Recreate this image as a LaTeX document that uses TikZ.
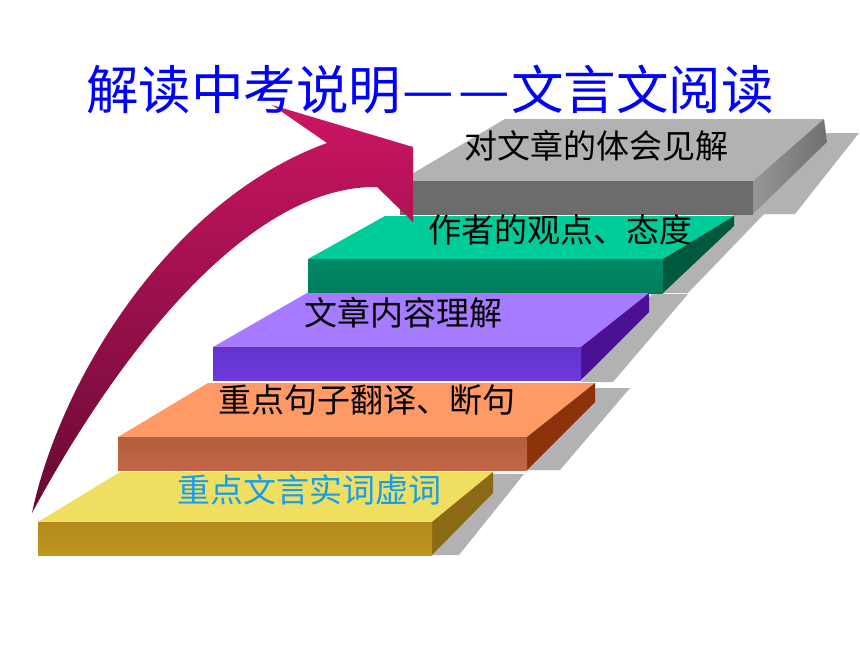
\documentclass[tikz,border=0pt]{standalone}
\usepackage{graphicx}
\usepackage{fontspec}
\newfontfamily\cjk{Noto Sans CJK SC}
\definecolor{shadowgray}{RGB}{178,178,178}
\definecolor{ytop}{RGB}{240,222,96}
\definecolor{yfrontA}{RGB}{178,138,28}
\definecolor{yfrontB}{RGB}{212,166,32}
\definecolor{yside}{RGB}{140,105,20}
\definecolor{otop}{RGB}{255,153,102}
\definecolor{ofrontA}{RGB}{178,94,62}
\definecolor{ofrontB}{RGB}{220,114,82}
\definecolor{oside}{RGB}{140,50,10}
\definecolor{ptop}{RGB}{167,123,255}
\definecolor{pfrontA}{RGB}{100,52,205}
\definecolor{pfrontB}{RGB}{124,62,245}
\definecolor{pside}{RGB}{75,16,150}
\definecolor{gtop}{RGB}{0,204,153}
\definecolor{gfrontA}{RGB}{0,125,92}
\definecolor{gfrontB}{RGB}{0,138,102}
\definecolor{gside}{RGB}{0,88,62}
\definecolor{ktop}{RGB}{178,178,178}
\definecolor{kfrontA}{RGB}{108,108,108}
\definecolor{kfrontB}{RGB}{138,138,138}
\definecolor{ksideA}{RGB}{150,150,150}
\definecolor{ksideB}{RGB}{112,112,112}
\definecolor{arrowmag}{RGB}{205,21,99}
\definecolor{arrowmid}{RGB}{185,20,90}
\definecolor{arrowdark}{RGB}{100,10,50}
\definecolor{titleblue}{RGB}{0,0,255}
\definecolor{labelblue}{RGB}{20,158,240}
\begin{document}
\begin{tikzpicture}[x=1pt,y=-1pt,
  shadowface/.style={fill=shadowgray},
  steplabel/.style={inner sep=0pt,font=\cjk\fontsize{33}{33}\selectfont,text=black},
  titlelabel/.style={inner sep=0pt,font=\cjk\fontsize{52.5}{52.5}\selectfont,text=titleblue}]
\useasboundingbox (0,0) rectangle (860,645);
\fill[white] (0,0) rectangle (860,645);
% shadows
\fill[shadowface] (432,555)--(459,555)--(524,474)--(493,474)--cycle;
\fill[shadowface] (527,470)--(560,470)--(630,388)--(596,388)--cycle;
\fill[shadowface] (581,382)--(613,382)--(688,294)--(652,294)--cycle;
\fill[shadowface] (663,293)--(688,293)--(765,213)--(735,213)--cycle;
\fill[shadowface] (753,214)--(795,214)--(859,133)--(827,133)--cycle;
% gray step (top)
\fill[ktop] (400,181)--(753,181)--(824,119)--(505,119)--cycle;
\shade[left color=ksideA,right color=ksideB] (753,181)--(824,119)--(827,142)--(753,214)--cycle;
\shade[top color=kfrontA,middle color=kfrontB,bottom color=kfrontA] (400,181) rectangle (753,214);
% green step
\fill[gtop] (308,259)--(663,259)--(734,216)--(385,216)--cycle;
\fill[gside] (663,259)--(734,216)--(734,226)--(663,293)--cycle;
\shade[top color=gfrontB,bottom color=gfrontA] (308,259) rectangle (663,293);
% purple step
\fill[ptop] (213,347)--(581,347)--(649,293)--(307,293)--cycle;
\fill[pside] (581,347)--(649,293)--(649,312)--(581,380)--cycle;
\shade[top color=pfrontA,middle color=pfrontB,bottom color=pfrontA!60!pfrontB] (213,347) rectangle (581,380);
% orange step
\fill[otop] (118,437)--(527,437)--(595,383)--(208,383)--cycle;
\fill[oside] (527,437)--(595,383)--(595,402)--(527,470)--cycle;
\shade[top color=ofrontA,middle color=ofrontB,bottom color=ofrontA!60!ofrontB] (118,437) rectangle (527,470);
% yellow step
\fill[ytop] (38,522)--(432,522)--(493,472)--(120,472)--cycle;
\fill[yside] (432,522)--(493,472)--(493,493)--(432,555)--cycle;
\shade[top color=yfrontA,middle color=yfrontB,bottom color=yfrontA!60!yfrontB] (38,522) rectangle (432,555);
% arrow
\shade[top color=arrowmag,middle color=arrowmid,bottom color=arrowdark]
  (32,513) .. controls (60,380) and (170,200) .. (327,143) -- (272,105) -- (413,147)
  -- (413,222) -- (377,187) .. controls (250,185) and (120,350) .. (32,513) -- cycle;
% labels
\node[titlelabel] (title) at (430,90) {解读中考说明\kern1pt\scalebox{1.1}[1]{—}\kern5pt\scalebox{1.1}[1]{—}\kern1pt文言文阅读};
\node[steplabel] (l5) at (596,146) {对文章的体会见解};
\node[steplabel] (l4) at (560,230) {作者的观点、态度};
\node[steplabel] (l3) at (403,313) {文章内容理解};
\node[steplabel] (l2) at (367,400) {重点句子翻译、断句};
\node[steplabel,text=labelblue] (l1) at (309,490) {重点文言实词虚词};
\end{tikzpicture}
\end{document}
